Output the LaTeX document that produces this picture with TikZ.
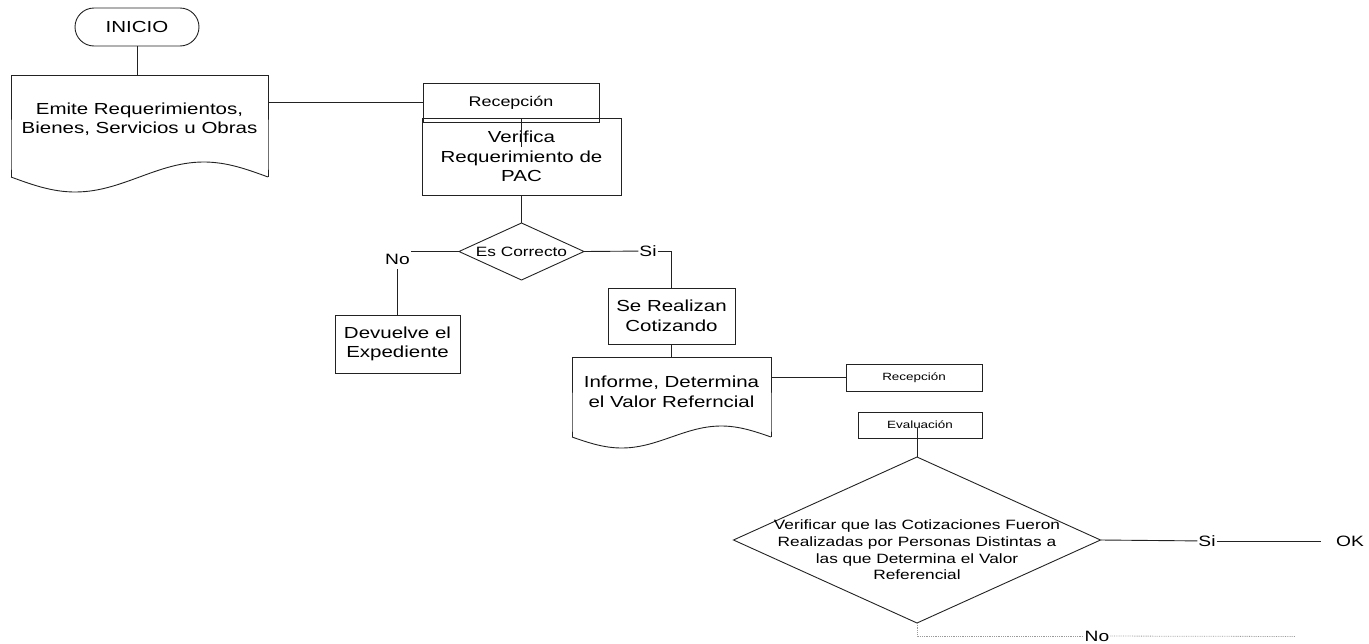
\documentclass[tikz,border=0pt]{standalone}
\usepackage{fontspec}
\setmainfont{Liberation Sans}[FakeStretch=1.28]
\usepackage{tikz}
\usetikzlibrary{shapes.geometric,shapes.misc}
\definecolor{linea}{HTML}{222222}
\definecolor{punteado}{HTML}{9A9A9A}

\tikzset{
  fgrande/.style={font=\fontsize{16}{19.5}\selectfont},
  fmedia/.style={font=\fontsize{13.5}{16.7}\selectfont},
  fchica/.style={font=\fontsize{10.5}{12.5}\selectfont},
  terminal/.style={draw=linea, line width=0.9pt, rounded rectangle, inner sep=0pt, outer sep=0pt},
  proc/.style={draw=linea, line width=0.9pt, rectangle, align=center, inner sep=0pt, outer sep=0pt},
  docnode/.style={rectangle, align=center, inner sep=0pt, outer sep=0pt},
  decision/.style={draw=linea, line width=0.9pt, diamond, inner sep=0pt, outer sep=0pt},
  rotulo/.style={inner sep=1pt, font=\fontsize{15}{18}\selectfont},
}

% documento: lados y borde ondulado (nodo, ancho, hondo)
\newcommand{\docshape}[3]{%
  \draw[linea, line width=0.9pt] (#1.south east) ++(0,#3) -- (#1.south east) -- (#1.north east)
    -- (#1.north west) -- (#1.south west) -- ++(0,#3);
  \draw[linea, line width=0.9pt, shift={(#1.south west)}]
    plot[domain=0:1, samples=60] ({#2*\x},{#3+(#3+1)*sin(360*\x)});
}

\begin{document}
\begin{tikzpicture}[x=1pt, y=-1pt]
  \useasboundingbox (0,0) rectangle (1369,643);
  % inicio y requerimiento
  \node[terminal, fgrande, minimum width=124pt, minimum height=38pt] (inicio) at (137,27) {INICIO};
  \node[docnode, fgrande, minimum width=257pt, minimum height=88pt, anchor=north] (emite) at (139.5,75)
    {Emite Requerimientos,\\Bienes, Servicios u Obras};
  \docshape{emite}{257}{14}
  \draw[linea, line width=0.9pt] (inicio.south) -- (inicio.south |- emite.north);

  % recepcion y verificacion
  \node[proc, fgrande, font=\fontsize{14}{17}\selectfont, minimum width=176pt, minimum height=39pt] (recep1) at (511,102.5) {Recepción};
  \node[proc, fgrande, minimum width=199pt, minimum height=77pt] (verifica) at (521.5,156.5)
    {Verifica\\Requerimiento de\\PAC};
  \coordinate (stub) at (521.5,147);
  \draw[linea, line width=0.9pt] (recep1.west) -- (recep1.west -| emite.east);
  \draw[linea, line width=0.9pt] (verifica.north) -- (stub);

  % es correcto
  \node[decision, minimum width=125pt, minimum height=57pt] (escorr) at (521.5,251.5) {};
  \node[fmedia] at (escorr) {Es Correcto};
  \draw[linea, line width=0.9pt] (verifica) -- (escorr.north);
  \node[rotulo] (no1) at (397.5,259) {No};
  \node[proc, fgrande, minimum width=125pt, minimum height=58pt] (devuelve) at (397.5,344)
    {Devuelve el\\Expediente};
  \draw[linea, line width=0.9pt] (escorr.west) -- (escorr.west -| no1.east);
  \draw[linea, line width=0.9pt] (no1.south) ++(0,4) -- (devuelve.north);
  \node[rotulo] (si1) at (648,251) {Si};
  \node[proc, fgrande, minimum width=127pt, minimum height=56pt] (serealizan) at (671.5,316)
    {Se Realizan\\Cotizando};
  \draw[linea, line width=0.9pt] (escorr.east) -- (si1);
  \draw[linea, line width=0.9pt] (si1.east) -| (serealizan.north);

  % informe
  \node[docnode, fgrande, minimum width=199pt, minimum height=70pt, anchor=north] (informe) at (671.5,357)
    {Informe, Determina\\el Valor Referncial};
  \docshape{informe}{199}{10}
  \draw[linea, line width=0.9pt] (serealizan) -- (informe.north);
  \node[proc, fchica, minimum width=136pt, minimum height=27pt] (recep2) at (914,377.5) {Recepción};
  \draw[linea, line width=0.9pt] (recep2.west) -- (recep2.west -| informe.east);
  \node[proc, fchica, minimum width=124pt, minimum height=26pt] (evaluacion) at (920,425) {Evaluación};

  % verificar cotizaciones
  \node[decision, minimum width=367pt, minimum height=166pt] (verificar) at (917,540) {};
  \node[fmedia, align=center] at (917,550)
    {Verificar que las Cotizaciones Fueron\\Realizadas por Personas Distintas a\\las que Determina el Valor\\Referencial};
  \draw[linea, line width=0.9pt] (verificar.north) -- ++(0,-29);
  \node[rotulo] (si2) at (1207,541) {Si};
  \node[rotulo] (ok) at (1350,541) {OK};
  \draw[linea, line width=0.9pt] (verificar.east) -- (si2);
  \draw[linea, line width=0.9pt, shorten >=14pt] (si2) -- (ok);
  \node[rotulo] (no2) at (1097,636) {No};
  \coordinate (noend) at (1295,636.5);
  \draw[punteado, line width=0.8pt, densely dotted] (verificar.south) |- (no2);
  \draw[punteado, line width=0.8pt, densely dotted] (no2) -- (noend);
\end{tikzpicture}
\end{document}
